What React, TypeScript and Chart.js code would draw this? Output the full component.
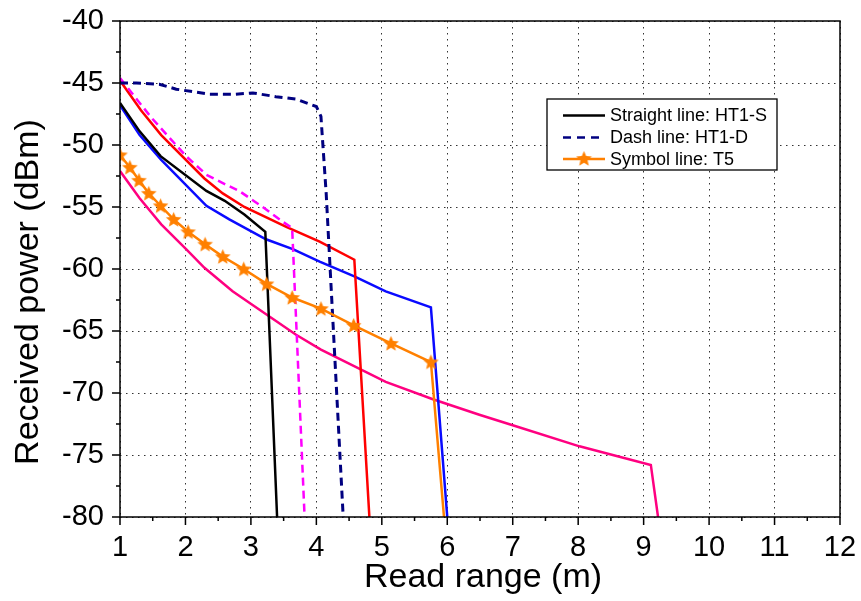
import React, { useEffect, useRef } from 'react';
import { Chart, registerables } from 'chart.js';

Chart.register(...registerables);

const FONT = '"Liberation Sans", Arial, Helvetica, sans-serif';

// Axis ticks
const xTickValues = [1, 2, 3, 4, 5, 6, 7, 8, 9, 10, 11, 12];
const yTickValues = [-80, -75, -70, -65, -60, -55, -50, -45, -40];
const xMinorStep = 0.5;
const yMinorStep = 2.5;
const xTitle = 'Read range (m)';
const yTitle = 'Received power (dBm)';

// Series (x in m, y in dBm)
const t5X = [1, 1.15, 1.29, 1.44, 1.62, 1.82, 2.04, 2.3, 2.57, 2.89, 3.24, 3.63, 4.07, 4.57, 5.14, 5.75, 5.95];
const t5Y = [-50.8, -51.8, -52.85, -53.9, -54.9, -56.0, -57.0, -58.0, -59.0, -60.0, -61.2, -62.3, -63.2, -64.55, -66.0, -67.5, -80];

const ht1sX = [1, 1.3, 1.62, 2.32, 2.6, 2.9, 3.22, 3.4];
const ht1sY = [-46.6, -48.9, -50.9, -53.7, -54.5, -55.6, -57.0, -80];

const ht1dX = [1, 1.25, 1.6, 1.86, 2.37, 2.77, 3.03, 3.38, 3.69, 4.0, 4.07, 4.15, 4.41];
const ht1dY = [-45.0, -45.0, -45.1, -45.5, -45.9, -45.9, -45.8, -46.1, -46.3, -46.9, -47.7, -53.9, -80];

const magentaX = [1, 1.48, 2.01, 2.32, 2.62, 2.82, 3.18, 3.49, 3.63, 3.82];
const magentaY = [-44.6, -47.8, -50.9, -52.4, -53.2, -53.7, -55.0, -56.2, -56.7, -80];

const redX = [1, 1.32, 1.63, 2.29, 2.57, 2.9, 3.54, 4.05, 4.58, 4.81];
const redY = [-44.8, -47.2, -49.2, -52.7, -53.9, -55.0, -56.6, -57.8, -59.25, -80];

const blueX = [1, 1.3, 1.63, 2.32, 2.67, 3.23, 3.64, 4.05, 4.58, 5.06, 5.75, 6.0];
const blueY = [-46.8, -49.2, -51.2, -54.9, -56.0, -57.6, -58.4, -59.4, -60.6, -61.8, -63.1, -80];

const pinkX = [1, 1.3, 1.63, 2.01, 2.29, 2.72, 2.97, 3.69, 4.07, 5.06, 5.78, 6.49, 7.0, 8.02, 9.11, 9.22];
const pinkY = [-52.1, -54.3, -56.4, -58.4, -59.9, -61.8, -62.7, -65.3, -66.5, -69.1, -70.5, -71.75, -72.6, -74.3, -75.8, -80];

const legendLabels = ['Straight line: HT1-S', 'Dash line: HT1-D', 'Symbol line: T5'];

const ORANGE = '#FF8000';
const NAVY = '#000080';

function zip(xs: number[], ys: number[]) {
  return xs.map((x, i) => ({ x, y: ys[i] }));
}

function makeStar(size: number, color: string): HTMLCanvasElement {
  const c = document.createElement('canvas');
  c.width = size;
  c.height = size;
  const ctx = c.getContext('2d')!;
  const cx = size / 2;
  const cy = size / 2 + 0.6;
  const R = size / 2 - 0.3;
  const r = R * 0.45;
  ctx.beginPath();
  for (let i = 0; i < 10; i++) {
    const a = -Math.PI / 2 + (i * Math.PI) / 5;
    const rr = i % 2 === 0 ? R : r;
    const px = cx + rr * Math.cos(a);
    const py = cy + rr * Math.sin(a);
    if (i === 0) ctx.moveTo(px, py);
    else ctx.lineTo(px, py);
  }
  ctx.closePath();
  ctx.fillStyle = color;
  ctx.fill();
  return c;
}

const zeroPad = (s: any) => {
  s.paddingTop = 0;
  s.paddingBottom = 0;
  s.paddingLeft = 0;
  s.paddingRight = 0;
};

export default function App() {
  const ref = useRef<HTMLCanvasElement | null>(null);

  useEffect(() => {
    const canvas = ref.current;
    if (!canvas) return;
    const star = makeStar(17, ORANGE);

    const framePlugin = {
      id: 'frameAndLegend',
      beforeDraw(chart: any) {
        const { ctx, width, height } = chart;
        ctx.save();
        ctx.fillStyle = '#fff';
        ctx.fillRect(0, 0, width, height);
        ctx.restore();
      },
      afterDraw(chart: any) {
        const { ctx, chartArea: a, scales } = chart;
        const xs = scales.x;
        const ys = scales.y;
        ctx.save();
        // frame
        ctx.strokeStyle = '#000';
        ctx.lineWidth = 1.5;
        ctx.strokeRect(a.left, a.top, a.right - a.left, a.bottom - a.top);
        // ticks
        ctx.beginPath();
        const xMin = xTickValues[0];
        const xMax = xTickValues[xTickValues.length - 1];
        for (let v = xMin; v <= xMax + 1e-6; v += xMinorStep) {
          const px = xs.getPixelForValue(v);
          const major = Math.abs(v - Math.round(v)) < 1e-6;
          ctx.moveTo(px, a.bottom);
          ctx.lineTo(px, a.bottom + (major ? 8 : 4));
        }
        const yMin = yTickValues[0];
        const yMax = yTickValues[yTickValues.length - 1];
        for (let v = yMin; v <= yMax + 1e-6; v += yMinorStep) {
          const py = ys.getPixelForValue(v);
          const major = Math.abs(v / 5 - Math.round(v / 5)) < 1e-6;
          ctx.moveTo(a.left, py);
          ctx.lineTo(a.left - (major ? 8 : 4), py);
        }
        ctx.stroke();

        // axis titles
        ctx.fillStyle = '#000';
        ctx.font = `34px ${FONT}`;
        ctx.textAlign = 'center';
        ctx.textBaseline = 'alphabetic';
        ctx.fillText(xTitle, 483, 587);
        ctx.save();
        ctx.translate(38, 292);
        ctx.rotate(-Math.PI / 2);
        ctx.fillText(yTitle, 0, 0);
        ctx.restore();

        // legend
        const lx = 547, ly = 99, lw = 230, lh = 71;
        ctx.fillStyle = '#fff';
        ctx.fillRect(lx, ly, lw, lh);
        ctx.strokeStyle = '#000';
        ctx.lineWidth = 1.3;
        ctx.strokeRect(lx, ly, lw, lh);
        const rows = [115.5, 137.5, 159];
        const styles = [
          { color: '#000', dash: [] as number[], width: 2.5, star: false },
          { color: NAVY, dash: [8, 6], width: 2.5, star: false },
          { color: ORANGE, dash: [] as number[], width: 2.5, star: true },
        ];
        ctx.font = `18px ${FONT}`;
        ctx.textAlign = 'left';
        ctx.textBaseline = 'middle';
        rows.forEach((ry, i) => {
          const s = styles[i];
          ctx.beginPath();
          ctx.setLineDash(s.dash);
          ctx.strokeStyle = s.color;
          ctx.lineWidth = s.width;
          ctx.moveTo(563, ry);
          ctx.lineTo(605, ry);
          ctx.stroke();
          ctx.setLineDash([]);
          if (s.star) ctx.drawImage(star, 584 - star.width / 2, ry - star.height / 2 - 0.5);
          ctx.fillStyle = '#000';
          ctx.fillText(legendLabels[i], 610, ry + 1);
        });
        ctx.restore();
      },
    };

    const chart = new Chart(canvas, {
      type: 'line',
      data: {
        datasets: [
          {
            label: legendLabels[2],
            data: zip(t5X, t5Y),
            borderColor: ORANGE,
            backgroundColor: ORANGE,
            borderWidth: 2.5,
            pointStyle: star as any,
            pointRadius: t5X.map((_, i) => (i === t5X.length - 1 ? 0 : 6)),
          },
          {
            label: legendLabels[0],
            data: zip(ht1sX, ht1sY),
            borderColor: '#000000',
            borderWidth: 2.5,
            pointRadius: 0,
          },
          {
            label: legendLabels[1],
            data: zip(ht1dX, ht1dY),
            borderColor: NAVY,
            borderWidth: 3,
            borderDash: [8, 5],
            pointRadius: 0,
          },
          {
            label: 'magenta',
            data: zip(magentaX, magentaY),
            borderColor: '#FF00FF',
            borderWidth: 2.5,
            borderDash: [8, 5],
            pointRadius: 0,
          },
          {
            label: 'red',
            data: zip(redX, redY),
            borderColor: '#FF0000',
            borderWidth: 2.5,
            pointRadius: 0,
          },
          {
            label: 'blue',
            data: zip(blueX, blueY),
            borderColor: '#0A0AFF',
            borderWidth: 2.5,
            pointRadius: 0,
          },
          {
            label: 'pink',
            data: zip(pinkX, pinkY),
            borderColor: '#FF0080',
            borderWidth: 2.5,
            pointRadius: 0,
          },
        ],
      },
      options: {
        animation: false,
        responsive: false,
        maintainAspectRatio: false,
        devicePixelRatio: 1,
        layout: { padding: { top: 21, right: 21, left: 0, bottom: 0 } },
        elements: { line: { tension: 0 } },
        plugins: {
          legend: { display: false },
          tooltip: { enabled: false },
        },
        scales: {
          x: {
            type: 'linear',
            min: xTickValues[0],
            max: xTickValues[xTickValues.length - 1],
            afterFit: (s: any) => {
              s.height = 84;
              zeroPad(s);
            },
            afterBuildTicks: (s: any) => {
              s.ticks = xTickValues.map((v) => ({ value: v }));
            },
            ticks: {
              color: '#000',
              font: { family: FONT, size: 29 },
              padding: 14,
              maxRotation: 0,
              autoSkip: false,
              callback: (v: any) => String(v),
            },
            grid: {
              color: '#333',
              lineWidth: 1,
              drawTicks: false,
            },
            border: { display: false, dash: [1.5, 4.5] },
          },
          y: {
            type: 'linear',
            min: yTickValues[0],
            max: yTickValues[yTickValues.length - 1],
            afterFit: (s: any) => {
              s.width = 120;
              zeroPad(s);
            },
            afterBuildTicks: (s: any) => {
              s.ticks = yTickValues.map((v) => ({ value: v }));
            },
            ticks: {
              color: '#000',
              font: { family: FONT, size: 29 },
              padding: 16,
              autoSkip: false,
              callback: (v: any) => String(v),
            },
            grid: {
              color: '#333',
              lineWidth: 1,
              drawTicks: false,
            },
            border: { display: false, dash: [1.5, 4.5] },
          },
        },
      },
      plugins: [framePlugin],
    });

    return () => {
      chart.destroy();
    };
  }, []);

  return (
    <div style={{ position: 'fixed', left: 0, top: 0, width: 861, height: 601, background: '#fff' }}>
      <canvas ref={ref} width={861} height={601} style={{ display: 'block', width: 861, height: 601 }} />
    </div>
  );
}
